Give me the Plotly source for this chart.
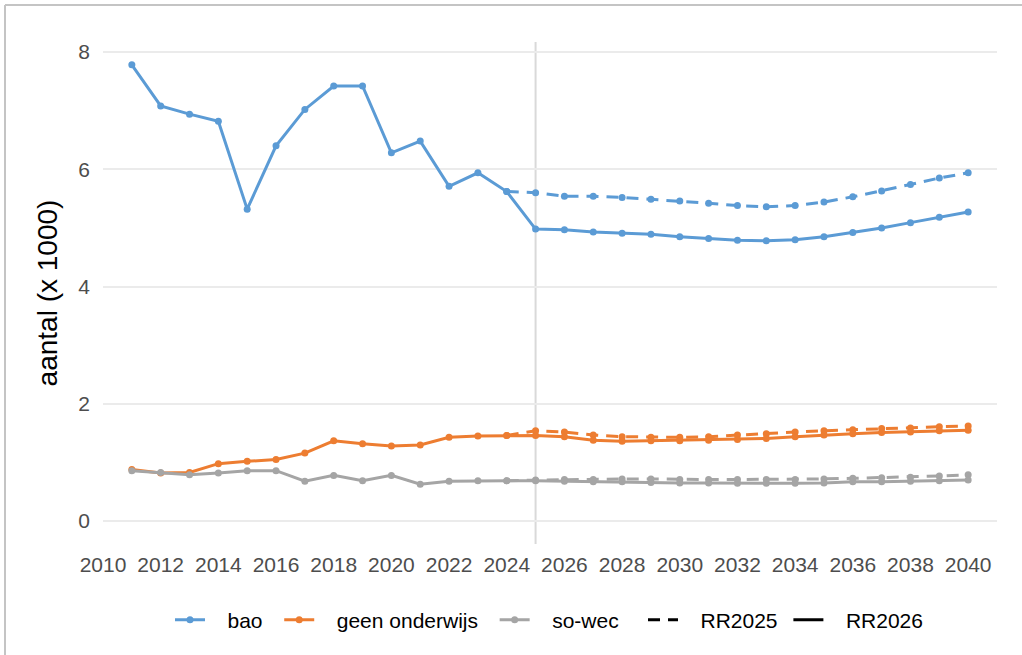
import plotly.graph_objects as go

years_hist = list(range(2011, 2025))
years_proj = list(range(2025, 2041))

bao_hist = [7.78, 7.08, 6.94, 6.82, 5.32, 6.40, 7.02, 7.42, 7.42, 6.28, 6.48, 5.71, 5.94, 5.62]
geen_hist = [0.88, 0.82, 0.83, 0.98, 1.02, 1.05, 1.16, 1.37, 1.32, 1.28, 1.30, 1.43, 1.45, 1.46]
sowec_hist = [0.86, 0.83, 0.79, 0.82, 0.86, 0.86, 0.68, 0.78, 0.69, 0.78, 0.63, 0.68, 0.69, 0.69]

bao_rr2025 = [5.60, 5.54, 5.54, 5.52, 5.49, 5.46, 5.42, 5.38, 5.36, 5.38, 5.44, 5.53, 5.63, 5.74, 5.85, 5.94]
bao_rr2026 = [4.98, 4.97, 4.93, 4.91, 4.89, 4.85, 4.82, 4.79, 4.78, 4.80, 4.85, 4.92, 5.00, 5.09, 5.18, 5.27]
geen_rr2025 = [1.54, 1.52, 1.47, 1.44, 1.43, 1.43, 1.44, 1.47, 1.49, 1.52, 1.54, 1.56, 1.58, 1.59, 1.61, 1.62]
geen_rr2026 = [1.46, 1.44, 1.38, 1.36, 1.37, 1.37, 1.38, 1.39, 1.41, 1.44, 1.47, 1.49, 1.51, 1.52, 1.54, 1.55]
sowec_rr2025 = [0.70, 0.71, 0.71, 0.72, 0.72, 0.71, 0.71, 0.71, 0.71, 0.71, 0.72, 0.73, 0.74, 0.75, 0.77, 0.79]
sowec_rr2026 = [0.69, 0.68, 0.67, 0.67, 0.66, 0.65, 0.65, 0.645, 0.645, 0.645, 0.65, 0.67, 0.67, 0.68, 0.69, 0.70]

series = [
    ("bao", "#5B9BD5", bao_hist, bao_rr2025, bao_rr2026),
    ("geen onderwijs", "#ED7D31", geen_hist, geen_rr2025, geen_rr2026),
    ("so-wec", "#A5A5A5", sowec_hist, sowec_rr2025, sowec_rr2026),
]
scenario_names = ["RR2025", "RR2026"]

x_ticks = list(range(2010, 2041, 2))
y_ticks = [0, 2, 4, 6, 8]
split_year = 2025

FONT = "Liberation Sans, Arial, sans-serif"
DASH = "12px,8px"
LW = 3
MS = 7
NB = "\u00a0"


def leg_label(s, trail=1):
    return NB * 3 + s + NB * trail


fig = go.Figure()

for name, color, hist, rr25, rr26 in series:
    fig.add_trace(go.Scatter(
        x=[years_hist[-1]] + years_proj, y=[hist[-1]] + rr25,
        mode="lines+markers", line=dict(color=color, width=LW, dash=DASH),
        marker=dict(color=color, size=MS), showlegend=False, hoverinfo="skip"))
    fig.add_trace(go.Scatter(
        x=years_hist + years_proj, y=hist + rr26,
        mode="lines+markers", line=dict(color=color, width=LW),
        marker=dict(color=color, size=MS), name=leg_label(name, 2), showlegend=True,
        legend="legend"))

fig.add_trace(go.Scatter(x=[None], y=[None], mode="lines", name=leg_label(scenario_names[0]),
                         line=dict(color="black", width=LW, dash=DASH), legend="legend2"))
fig.add_trace(go.Scatter(x=[None], y=[None], mode="lines", name=leg_label(scenario_names[1]),
                         line=dict(color="black", width=LW), legend="legend2"))

fig.add_vline(x=split_year, line=dict(color="#d9d9d9", width=2), layer="below")

W, H = 1022, 655
ml, mr, mt, mb = 103, 25, 42, 111
pw, ph = W - ml - mr, H - mt - mb
bx = (5 - ml) / pw
by = (H - mb - 5) / ph
fig.add_shape(type="line", xref="paper", yref="paper", x0=bx, x1=(W - ml + 5) / pw,
              y0=by, y1=by, line=dict(color="#c4c4c4", width=2))
fig.add_shape(type="line", xref="paper", yref="paper", x0=bx, x1=bx,
              y0=by, y1=-(mb + 5) / ph, line=dict(color="#c4c4c4", width=2))

leg_common = dict(orientation="h", yanchor="middle", y=-(620 - (H - mb)) / ph,
                  xanchor="left", font=dict(size=21, color="black"),
                  bgcolor="rgba(0,0,0,0)")

fig.update_layout(
    width=W, height=H,
    margin=dict(l=ml, r=mr, t=mt, b=mb, autoexpand=False),
    paper_bgcolor="white", plot_bgcolor="white",
    font=dict(family=FONT, size=21, color="black"),
    legend=dict(x=(170 - ml) / pw, **leg_common),
    legend2=dict(x=(643 - ml) / pw, **leg_common),
    xaxis=dict(range=[2010, 2041], tickvals=x_ticks, showgrid=False, zeroline=False,
               showline=False, tickfont=dict(size=21, color="#4d4d4d"), automargin=False,
               ticks="", ticklabelstandoff=6),
    yaxis=dict(range=[-0.39, 8.17], tickvals=y_ticks, showgrid=True, gridcolor="#ebebeb",
               gridwidth=2, zeroline=False, showline=False, automargin=False,
               tickfont=dict(size=21, color="#4d4d4d"), ticks="", ticklabelstandoff=12,
               title=dict(text="aantal (x 1000)", font=dict(size=28, color="black"), standoff=12)),
)

fig.write_html("out.html", config={"displayModeBar": False})

with open("out.html", "r", encoding="utf-8") as f:
    html = f.read()
html = html.replace("<head>", "<head><style>html,body{margin:0;padding:0;}</style>", 1)
with open("out.html", "w", encoding="utf-8") as f:
    f.write(html)
